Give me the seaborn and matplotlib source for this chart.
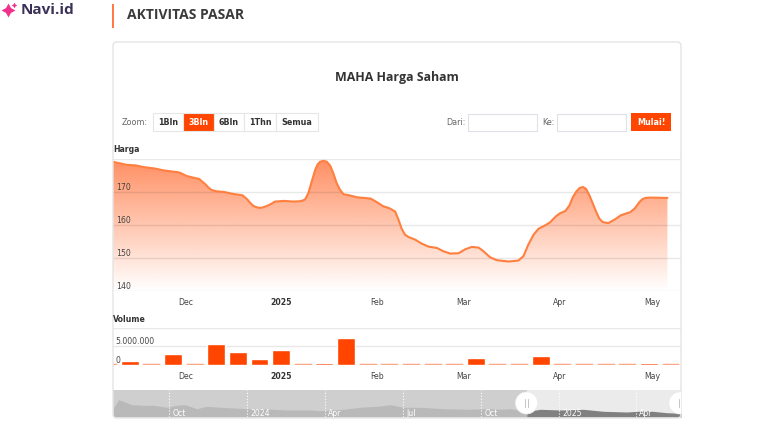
import numpy as np
import pandas as pd
import seaborn as sns
import matplotlib
matplotlib.use("Agg")
import matplotlib.pyplot as plt
import matplotlib.dates as mdates
from matplotlib.patches import FancyBboxPatch, Rectangle, Circle

# Price, days counted from 2025-01-01
price_days = [-54.5, -52, -50, -47, -44.5, -41, -38, -33, -30.5, -26.5, -24.5, -23.5, -22.5, -21, -18.5, -15.5, -12.5,
              -11, -10, -9, -8, -7, -6, -4.5, -3, -2, 1, 4, 6, 7, 7.8, 8.8, 9.9, 11, 11.8, 12.6, 13.7, 14.8, 15.9,
              16.9, 18, 19.1, 20.2, 22, 24.5, 29, 31, 33, 35, 36.9, 38, 39, 40.1, 41.2, 43.4, 45.5, 47.7, 50.4,
              52.5, 54.7, 57.4, 59.6, 61.7, 63.9, 65.5, 67.6, 69.8, 73.6, 76.8, 78.4, 80, 81.7, 83.3, 85.4, 87,
              89, 90.3, 91.9, 93.3, 94.4, 95.5, 96.6, 97.7, 98.7, 99.8, 100.9, 102, 103, 104.1, 105.9, 108, 110,
              113, 114.5, 116, 117, 118, 119.5, 125]
price_values = [179, 178.5, 178.1, 177.9, 177.4, 177, 176.4, 175.8, 174.7, 173.8, 172.2, 171.2, 170.5, 170.1, 169.9, 169.3, 168.9,
                167.7, 166.6, 165.7, 165.3, 165.1, 165.2, 165.7, 166.4, 167, 167.2, 167, 167.1, 167.3, 167.7, 169.5, 173, 176.5, 178.2, 179, 179.3, 179, 177.8,
                175.5, 172.5, 170.5, 169.2, 168.9, 168.3, 167.9, 166.8, 165.6, 165, 164, 161.5, 158.8, 157, 156.3, 155.5, 154.3, 153.4, 153,
                152, 151.3, 151.4, 152.6, 153.3, 153.1, 152, 150.2, 149.3, 148.9, 149.2, 150.5, 154, 157, 158.8, 159.8, 160.7,
                162.6, 163.5, 164.1, 165.8, 168.3, 170, 171.1, 171.4, 170.8, 168.8, 166.3, 163.8, 161.8, 160.8, 160.5, 161.6, 162.9,
                163.8, 165, 166.9, 167.8, 168.1, 168.2, 168.1]

# Weekly volume, millions
volume_weeks = pd.date_range("2024-11-06", periods=27, freq="7D")
volume_values = [0.4, 1.0, 0.4, 2.9, 0.4, 5.5, 3.4, 1.7, 3.9, 0.4, 0.6, 7.0, 0.4, 0.4, 0.4, 0.4, 0.4, 1.8,
                 0.4, 0.4, 2.4, 0.4, 0.4, 0.4, 0.4, 0.6, 0.4]

# Navigator silhouette, days from 2025-01-01 and height in pixels
nav_days = [-523, -517, -509, -502, -488, -476, -460, -449, -439, -425, -413.5, -398, -382, -366.5, -343, -319.5, -292,
            -280.5, -253, -233.5, -210, -198, -183, -163, -136, -108, -85, -69, -57.5, -38, -22, 1, 28.5, 52, 79.5, 103, 126, 143]
nav_heights = [9, 17.3, 15, 12.3, 11.7, 11.7, 9.7, 11.7, 12.3, 8.3, 10.7, 9.7, 9, 8.3, 8, 7, 7,
               6.3, 7.7, 9.7, 11, 12.3, 9.7, 9.7, 8.3, 7.7, 8.3, 7.7, 8.3, 5.7, 7.7, 7, 7.7, 5.7, 5, 6.3, 4.3, 3.7]
nav_ticks = [-458, -366, -275, -183, -92, 0, 90]
nav_labels = ["Oct", "2024", "Apr", "Jul", "Oct", "2025", "Apr"]

date_ticks = ["2024-12-01", "2025-01-01", "2025-02-01", "2025-03-01", "2025-04-01", "2025-05-01"]
date_labels = ["Dec", "2025", "Feb", "Mar", "Apr", "May"]

W, H = 768, 428
ORANGE = "#ff4500"
LINE = "#ff7f3f"
BORDER = "#e6e6e6"
TICK = "#444444"

sns.set_style("white")
plt.rcParams["font.family"] = "DejaVu Sans"
fig = plt.figure(figsize=(W / 100, H / 100), dpi=100, facecolor="white")


def px_axes(left, top, right, bottom, zorder=1):
    return fig.add_axes([left / W, 1 - bottom / H, (right - left) / W, (bottom - top) / H], zorder=zorder)


def to_num(days):
    return mdates.date2num(pd.Timestamp("2025-01-01") + pd.to_timedelta(days, unit="D"))


def clean(ax):
    sns.despine(ax=ax, left=True, bottom=True, right=True, top=True)
    ax.patch.set_alpha(0)
    ax.grid(True, axis="y", color="black", alpha=0.09, linewidth=1)
    ax.set_axisbelow(True)
    ax.set_xlabel("")
    ax.set_ylabel("")


xlim = (to_num(-54.4), to_num(129.4))
tick_pos = mdates.date2num(pd.to_datetime(date_ticks))


def date_axis(ax):
    ax.set_xlim(xlim)
    ax.set_xticks(tick_pos)
    ax.set_xticklabels(date_labels, fontsize=5.6, color=TICK)
    ax.tick_params(axis="x", length=0, pad=5)
    ax.get_xticklabels()[1].set_fontweight("bold")
    ax.get_xticklabels()[1].set_color("#333333")


def inside_labels(ax, ticks, labels):
    ax.set_yticks(ticks)
    ax.set_yticklabels(labels, fontsize=5.6, color=TICK)
    ax.tick_params(axis="y", length=0, pad=-2)
    plt.setp(ax.get_yticklabels(), ha="left", va="bottom")


# Price panel
ax = px_axes(113, 158.5, 681, 291)
price = pd.DataFrame({"x": to_num(price_days), "y": price_values})
poly = ax.fill_between(price["x"], price["y"], 140, color="none")
alpha = np.linspace(0.85, 0.0, 256)
grad = np.zeros((256, 1, 4))
grad[:, 0, :3] = matplotlib.colors.to_rgb("#ff7a45")
grad[:, 0, 3] = alpha
img = ax.imshow(grad, aspect="auto", extent=[*xlim, 140, 180], zorder=0.4)
img.set_clip_path(poly.get_paths()[0], transform=ax.transData)
sns.lineplot(data=price, x="x", y="y", color=LINE, linewidth=1.5, ax=ax, zorder=3)
ax.set_ylim(140, 180)
clean(ax)
date_axis(ax)
inside_labels(ax, [140, 150, 160, 170, 180], ["140", "150", "160", "170", ""])

# Volume panel
vol_ax = px_axes(113, 328, 681, 365)
volume = pd.DataFrame({"x": mdates.date2num(volume_weeks), "y": volume_values})
sns.barplot(data=volume, x="x", y="y", native_scale=True, color=ORANGE, saturation=1, width=0.83, ax=vol_ax, zorder=3)
for bar in vol_ax.patches:
    if bar.get_height() < 0.45:
        bar.set_alpha(0.6)
vol_ax.set_ylim(0, 9.74)
clean(vol_ax)
date_axis(vol_ax)
inside_labels(vol_ax, [0, 5, 9.74], ["0", "5.000.000", ""])

# Navigator
nav = px_axes(113, 390, 681, 417)
nav_x = np.array(nav_days)
nav_y = np.array(nav_heights)
nav.axvspan(-523.5, -38, color="#cfcfcf", linewidth=0)
nav.axvspan(-38, 143, color="#ebebeb", linewidth=0)
nav.fill_between(nav_x, nav_y, 0, where=nav_x <= -38, color="#b9b9b9", linewidth=0)
nav.fill_between(nav_x, nav_y, 0, where=nav_x >= -38, color="#808080", linewidth=0)
nav.set_xlim(-523.5, 143)
nav.set_ylim(0, 27)
nav.set_xticks(nav_ticks)
nav.set_yticks([])
nav.set_xticklabels([])
nav.tick_params(length=0)
nav.grid(True, axis="x", color="white", linewidth=0.8, linestyle=":")
nav.set_axisbelow(False)
sns.despine(ax=nav, left=True, bottom=True)
for t, lab in zip(nav_ticks, nav_labels):
    nav.text(t + 4, 3.5, lab, color="white", fontsize=5.6, ha="left", va="center", zorder=5)

# Page furniture in pixel coordinates
top = px_axes(0, 0, W, H, zorder=5)
top.set_xlim(0, W)
top.set_ylim(H, 0)
top.axis("off")

top.add_patch(FancyBboxPatch((113, 42), 568, 376, boxstyle="round,pad=0,rounding_size=4",
                             fc="none", ec="#e4e4e4", lw=1))

# logo and heading
top.plot([8], [9.5], marker=(4, 1, 0), ms=10, color="#f0308a", mew=0)
top.plot([13.5], [4.5], marker=(4, 1, 0), ms=4, color="#f0308a", mew=0)
top.text(21, 10, "Navi.id", fontsize=11, fontweight="bold", family="Open Sans", color="#3b3158", va="center")
top.add_patch(Rectangle((112, 4), 2, 24, color="#ff7a45", lw=0))
top.text(127, 15, "AKTIVITAS PASAR", fontsize=10, fontweight="bold", family="Open Sans", color="#3a3a3a", va="center")
top.text(396.5, 77, "MAHA Harga Saham", fontsize=8.9, fontweight="bold", family="Open Sans", color="#333333",
         ha="center", va="center")

# zoom buttons
top.text(135, 122, "Zoom:", fontsize=5.8, color="#666666", ha="center", va="center")
button_edges = [153, 183, 214, 244, 276, 318]
button_labels = ["1Bln", "3Bln", "6Bln", "1Thn", "Semua"]
for i, lab in enumerate(button_labels):
    l, r = button_edges[i], button_edges[i + 1]
    active = lab == "3Bln"
    top.add_patch(Rectangle((l, 113), r - l, 18, fc=ORANGE if active else "white", ec=BORDER, lw=0.8))
    top.text((l + r) / 2, 122, lab, fontsize=5.8, fontweight="bold", color="white" if active else "#333333",
             ha="center", va="center")

# date range inputs
top.text(456, 122, "Dari:", fontsize=5.8, color="#666666", ha="center", va="center")
top.add_patch(Rectangle((467.5, 113.5), 69, 17.5, fc="white", ec="#dfe1ea", lw=0.8))
top.text(548, 122, "Ke:", fontsize=5.8, color="#666666", ha="center", va="center")
top.add_patch(Rectangle((556.5, 113.5), 69, 17.5, fc="white", ec="#dfe1ea", lw=0.8))
top.add_patch(Rectangle((631, 113), 40, 18, fc=ORANGE, ec="none"))
top.text(651, 122, "Mulai!", fontsize=5.8, fontweight="bold", color="white", ha="center", va="center")

# panel titles
top.text(113, 150, "Harga", fontsize=5.6, fontweight="bold", color="#333333", va="center")
top.text(113, 320, "Volume", fontsize=5.6, fontweight="bold", color="#333333", va="center")

# navigator handles
clip = Rectangle((0, 0), 681, H, transform=top.transData)
for cx in [526.5, 680]:
    c = Circle((cx, 403), 11, fc="white", ec="#eeeeee", lw=0.5)
    top.add_patch(c)
    c.set_clip_path(clip)
    for dx in [-1.2, 1.2]:
        ln, = top.plot([cx + dx, cx + dx], [399, 407], color="#c4c4c4", lw=0.7)
        ln.set_clip_path(clip)

fig.savefig("out.png", dpi=100, facecolor="white")
